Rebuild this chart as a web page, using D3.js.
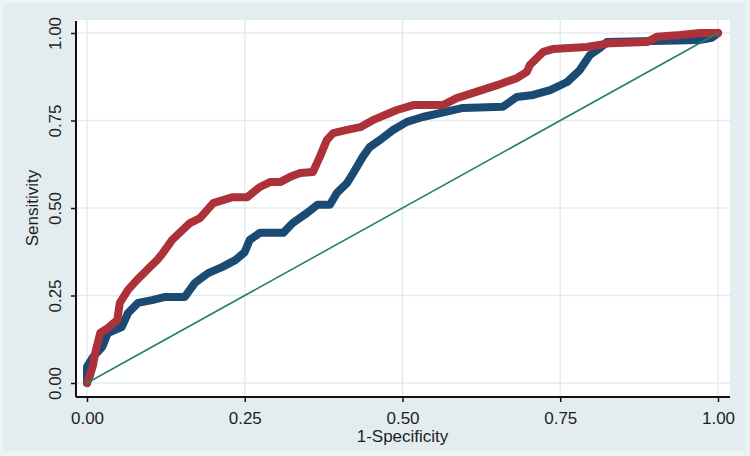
<!DOCTYPE html>
<html>
<head>
<meta charset="utf-8">
<script src="https://cdn.jsdelivr.net/npm/d3@7"></script>
<style>
  body { margin: 0; background: #e4eef1; }
  svg { display: block; }
  .tick text { font-family: "Liberation Sans", Arial, sans-serif; font-size: 17px; fill: #1e1e1e; }
</style>
</head>
<body>
<svg id="chart" width="750" height="456"></svg>
<script>
// tick values shared by both axes
const tickVals = [0, 0.25, 0.5, 0.75, 1];

// model 1 (navy)
const blueFpr = [0, 0, 0.0095, 0.024, 0.033, 0.055, 0.065, 0.081, 0.103, 0.124, 0.155, 0.171, 0.192, 0.214, 0.235, 0.25,
  0.258, 0.274, 0.311, 0.326, 0.349, 0.365, 0.385, 0.396, 0.412, 0.422, 0.437, 0.448, 0.464, 0.485, 0.507, 0.532,
  0.596, 0.659, 0.681, 0.707, 0.734, 0.761, 0.781, 0.797, 0.813, 0.824, 0.971, 0.99, 1];
const blueTpr = [0, 0.046, 0.074, 0.103, 0.143, 0.16, 0.2, 0.229, 0.237, 0.246, 0.246, 0.286, 0.314, 0.331, 0.351, 0.374,
  0.409, 0.429, 0.429, 0.457, 0.486, 0.509, 0.509, 0.543, 0.571, 0.6, 0.646, 0.674, 0.694, 0.723, 0.746, 0.76,
  0.786, 0.789, 0.817, 0.823, 0.837, 0.86, 0.894, 0.937, 0.957, 0.974, 0.98, 0.986, 1];

// model 2 (red)
const redFpr = [0, 0.005, 0.0095, 0.013, 0.021, 0.033, 0.048, 0.052, 0.065, 0.079, 0.095, 0.111, 0.12, 0.135, 0.155,
  0.163, 0.179, 0.2, 0.231, 0.254, 0.274, 0.29, 0.306, 0.322, 0.338, 0.358, 0.369, 0.38, 0.39, 0.412, 0.433, 0.453,
  0.491, 0.517, 0.564, 0.586, 0.612, 0.65, 0.681, 0.697, 0.702, 0.723, 0.738, 0.792, 0.829, 0.887, 0.903, 0.94, 0.971, 1];
const redTpr = [0, 0.023, 0.051, 0.086, 0.143, 0.157, 0.18, 0.229, 0.266, 0.294, 0.323, 0.351, 0.371, 0.409, 0.443,
  0.457, 0.471, 0.514, 0.531, 0.531, 0.56, 0.574, 0.574, 0.589, 0.6, 0.603, 0.646, 0.694, 0.714, 0.723, 0.731, 0.751,
  0.78, 0.794, 0.794, 0.814, 0.829, 0.851, 0.871, 0.889, 0.909, 0.946, 0.954, 0.96, 0.971, 0.974, 0.989, 0.994, 1, 1];

const refLine = [0, 1];

const svg = d3.select("#chart");

// outer frame
svg.append("rect").attr("width", 750).attr("height", 456).attr("fill", "#edf3f5");
svg.append("rect").attr("x", 3).attr("y", 3).attr("width", 742).attr("height", 448).attr("fill", "#e3edf0");

const x = d3.scaleLinear().domain([0, 1]).range([87, 718]);
const y = d3.scaleLinear().domain([0, 1]).range([383, 33]);

// plot region
svg.append("rect")
  .attr("x", 76).attr("y", 20)
  .attr("width", 654).attr("height", 377)
  .attr("fill", "#ffffff");

// grid
svg.append("g")
  .selectAll("line.vg")
  .data(tickVals)
  .enter()
  .append("line")
  .attr("x1", d => x(d)).attr("x2", d => x(d))
  .attr("y1", 20).attr("y2", 397)
  .attr("stroke", "#e1ecef").attr("stroke-width", 1.5);

svg.append("g")
  .selectAll("line.hg")
  .data(tickVals)
  .enter()
  .append("line")
  .attr("x1", 76).attr("x2", 730)
  .attr("y1", d => y(d)).attr("y2", d => y(d))
  .attr("stroke", "#e1ecef").attr("stroke-width", 1.5);

// curves
function drawCurve(fpr, tpr, color, width) {
  const pts = fpr.map((d, i) => [d, tpr[i]]);
  svg.append("path")
    .datum(pts)
    .attr("fill", "none")
    .attr("stroke", color)
    .attr("stroke-width", width)
    .attr("stroke-linejoin", "round")
    .attr("stroke-linecap", "round")
    .attr("d", d3.line().x(d => x(d[0])).y(d => y(d[1])));
}

drawCurve(blueFpr, blueTpr, "#1b4a72", 8);
drawCurve(redFpr, redTpr, "#ad3138", 8);
drawCurve(refLine, refLine, "#24806a", 1.6);

// axes
const xAxis = svg.append("g")
  .attr("transform", "translate(0,397)")
  .call(d3.axisBottom(x).tickValues(tickVals).tickSize(5).tickPadding(10).tickSizeOuter(0).tickFormat(d3.format(".2f")));
xAxis.select(".domain").attr("d", "M76,0H730").attr("stroke", "#111").attr("stroke-width", 2);
xAxis.selectAll(".tick line").attr("stroke", "#111").attr("stroke-width", 1.5);

const yAxis = svg.append("g")
  .attr("transform", "translate(76,0)")
  .call(d3.axisLeft(y).tickValues(tickVals).tickSize(5).tickSizeOuter(0).tickFormat(d3.format(".2f")));
yAxis.select(".domain").attr("d", "M0,21V397").attr("stroke", "#111").attr("stroke-width", 2);
yAxis.selectAll(".tick line").attr("stroke", "#111").attr("stroke-width", 1.5);
yAxis.selectAll(".tick text")
  .attr("x", null).attr("dy", null)
  .attr("text-anchor", "middle")
  .attr("transform", "translate(-15,0) rotate(-90)");

// axis titles
svg.append("text")
  .attr("x", x(0.5)).attr("y", 442)
  .attr("text-anchor", "middle")
  .style("font-family", "Liberation Sans, Arial, sans-serif")
  .style("font-size", "17px")
  .style("fill", "#1e1e1e")
  .text("1-Specificity");

svg.append("text")
  .attr("transform", `translate(38,${y(0.5)}) rotate(-90)`)
  .attr("text-anchor", "middle")
  .style("font-family", "Liberation Sans, Arial, sans-serif")
  .style("font-size", "17px")
  .style("fill", "#1e1e1e")
  .text("Sensitivity");
</script>
</body>
</html>
